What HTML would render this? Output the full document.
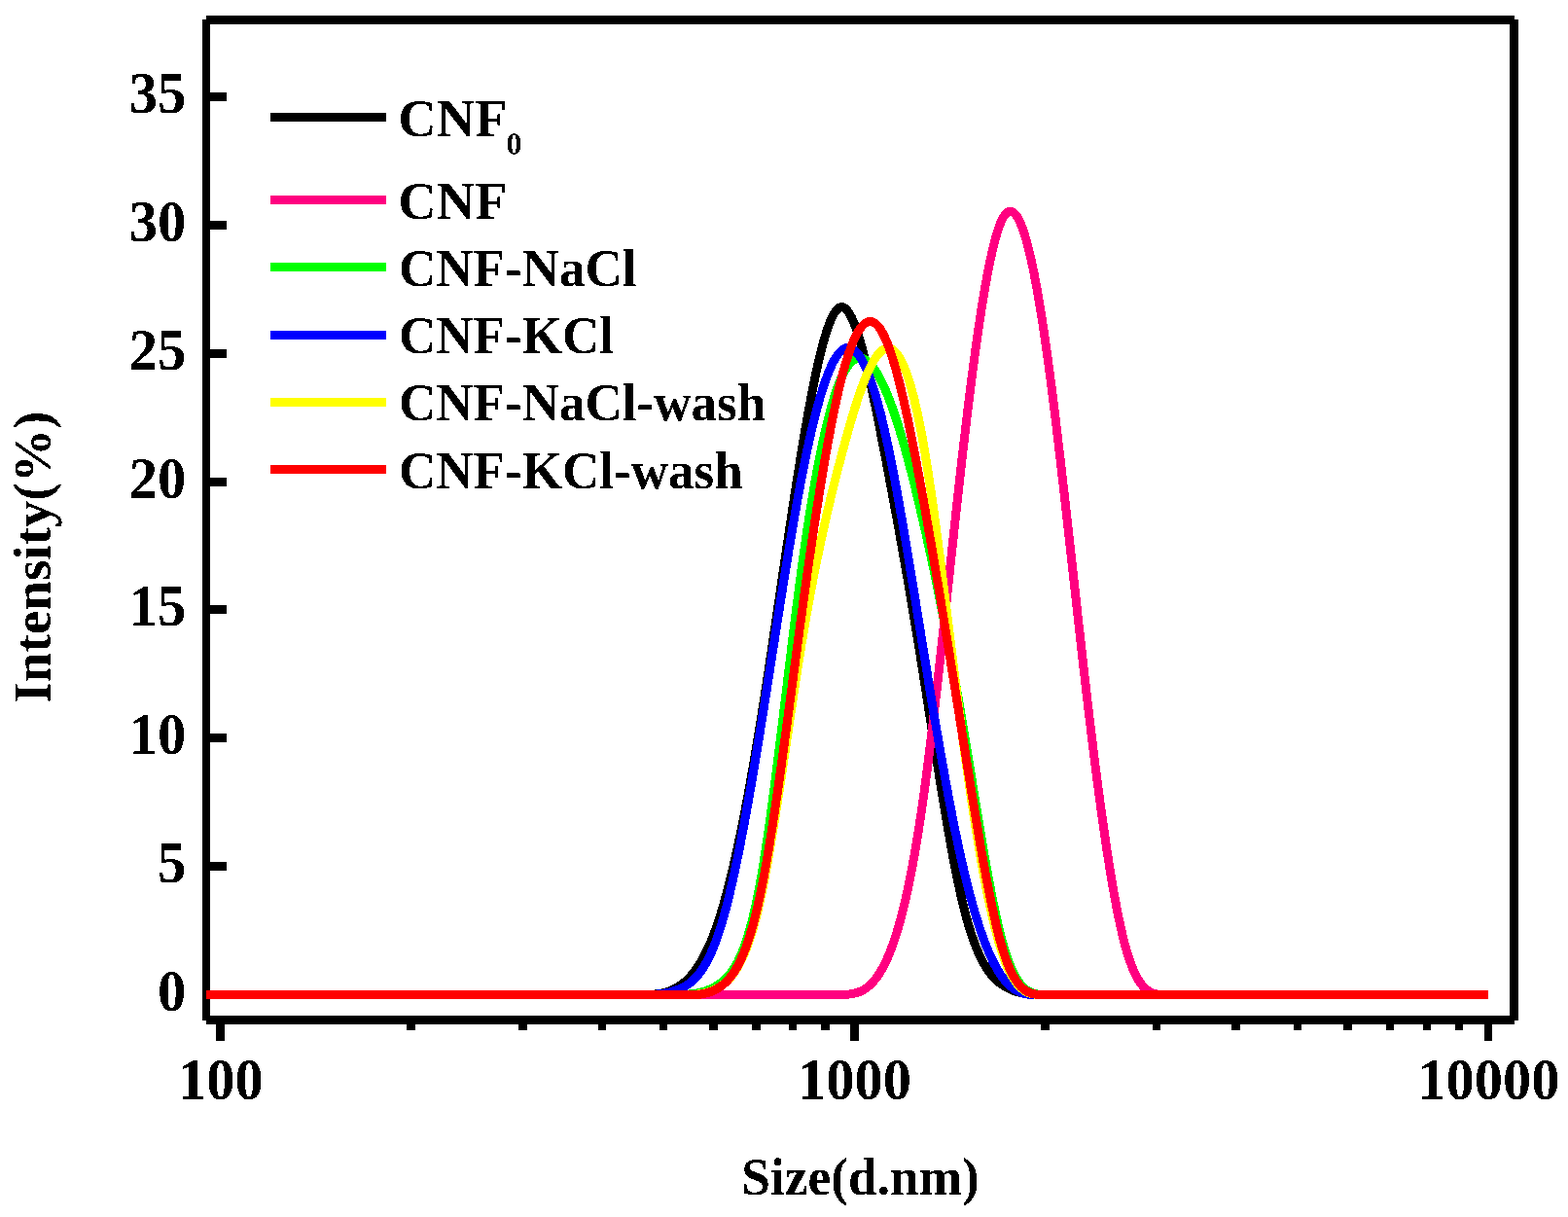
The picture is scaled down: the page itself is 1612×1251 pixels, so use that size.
<!DOCTYPE html>
<html><head><meta charset="utf-8"><title>Size distribution by intensity</title>
<style>html,body{margin:0;padding:0;background:#fff;overflow:hidden}svg{display:block}</style>
</head><body>
<svg width="1612" height="1251" viewBox="0 0 1612 1251">
<defs><filter id="bin" x="-5%" y="-10%" width="110%" height="120%"><feComponentTransfer><feFuncA type="discrete" tableValues="0 1"/></feComponentTransfer></filter></defs>
<rect width="1612" height="1251" fill="#fff"/>
<g fill="#000" shape-rendering="crispEdges">
<rect x="208" y="20" width="8" height="1029"/>
<rect x="1552" y="20" width="9" height="1029"/>
<rect x="212" y="16" width="1345" height="9"/>
<rect x="212" y="1044" width="1345" height="9"/>
<rect x="216" y="1018.00" width="17" height="9"/>
<rect x="216" y="886.15" width="17" height="9"/>
<rect x="216" y="754.30" width="17" height="9"/>
<rect x="216" y="622.45" width="17" height="9"/>
<rect x="216" y="490.60" width="17" height="9"/>
<rect x="216" y="358.75" width="17" height="9"/>
<rect x="216" y="226.90" width="17" height="9"/>
<rect x="216" y="95.05" width="17" height="9"/>
<rect x="222.25" y="1053" width="8.5" height="17"/>
<rect x="418.45" y="1053" width="8.5" height="6"/>
<rect x="533.21" y="1053" width="8.5" height="6"/>
<rect x="614.64" y="1053" width="8.5" height="6"/>
<rect x="677.80" y="1053" width="8.5" height="6"/>
<rect x="729.41" y="1053" width="8.5" height="6"/>
<rect x="773.04" y="1053" width="8.5" height="6"/>
<rect x="810.84" y="1053" width="8.5" height="6"/>
<rect x="844.18" y="1053" width="8.5" height="6"/>
<rect x="874.00" y="1053" width="8.5" height="17"/>
<rect x="1070.20" y="1053" width="8.5" height="6"/>
<rect x="1184.96" y="1053" width="8.5" height="6"/>
<rect x="1266.39" y="1053" width="8.5" height="6"/>
<rect x="1329.55" y="1053" width="8.5" height="6"/>
<rect x="1381.16" y="1053" width="8.5" height="6"/>
<rect x="1424.79" y="1053" width="8.5" height="6"/>
<rect x="1462.59" y="1053" width="8.5" height="6"/>
<rect x="1495.93" y="1053" width="8.5" height="6"/>
<rect x="1525.75" y="1053" width="8.5" height="17"/>
</g>
<g fill="none" stroke-width="9" stroke-linejoin="round" stroke-linecap="butt" shape-rendering="crispEdges">
<path d="M212.0,1022.50 657.0,1022.50 658.0,1022.50 659.0,1022.50 660.0,1022.50 661.0,1022.50 662.0,1022.49 663.0,1022.48 664.0,1022.47 665.0,1022.45 666.0,1022.42 667.0,1022.39 668.0,1022.35 669.0,1022.31 670.0,1022.25 671.0,1022.19 672.0,1022.11 673.0,1022.02 674.0,1021.92 675.0,1021.81 676.0,1021.68 677.0,1021.54 678.0,1021.38 679.0,1021.21 680.0,1021.02 681.0,1020.81 682.0,1020.59 683.0,1020.34 684.0,1020.08 685.0,1019.79 686.0,1019.49 687.0,1019.15 688.0,1018.80 689.0,1018.42 690.0,1018.02 691.0,1017.59 692.0,1017.14 693.0,1016.66 694.0,1016.15 695.0,1015.61 696.0,1015.04 697.0,1014.45 698.0,1013.82 699.0,1013.15 700.0,1012.46 701.0,1011.73 702.0,1010.97 703.0,1010.17 704.0,1009.33 705.0,1008.45 706.0,1007.54 707.0,1006.58 708.0,1005.57 709.0,1004.52 710.0,1003.43 711.0,1002.29 712.0,1001.10 713.0,999.86 714.0,998.57 715.0,997.22 716.0,995.82 717.0,994.37 718.0,992.86 719.0,991.29 720.0,989.66 721.0,987.97 722.0,986.22 723.0,984.41 724.0,982.53 725.0,980.58 726.0,978.57 727.0,976.49 728.0,974.34 729.0,972.11 730.0,969.82 731.0,967.45 732.0,965.00 733.0,962.48 734.0,959.88 735.0,957.20 736.0,954.44 737.0,951.59 738.0,948.67 739.0,945.65 740.0,942.56 741.0,939.37 742.0,936.10 743.0,932.74 744.0,929.29 745.0,925.76 746.0,922.14 747.0,918.44 748.0,914.65 749.0,910.78 750.0,906.83 751.0,902.79 752.0,898.68 753.0,894.49 754.0,890.21 755.0,885.86 756.0,881.43 757.0,876.92 758.0,872.34 759.0,867.68 760.0,862.95 761.0,858.14 762.0,853.26 763.0,848.30 764.0,843.28 765.0,838.18 766.0,833.01 767.0,827.77 768.0,822.47 769.0,817.09 770.0,811.65 771.0,806.14 772.0,800.57 773.0,794.92 774.0,789.22 775.0,783.45 776.0,777.62 777.0,771.72 778.0,765.76 779.0,759.75 780.0,753.67 781.0,747.53 782.0,741.34 783.0,735.08 784.0,728.77 785.0,722.41 786.0,716.00 787.0,709.54 788.0,703.04 789.0,696.49 790.0,689.91 791.0,683.30 792.0,676.65 793.0,669.97 794.0,663.27 795.0,656.55 796.0,649.80 797.0,643.04 798.0,636.26 799.0,629.47 800.0,622.67 801.0,615.87 802.0,609.06 803.0,602.26 804.0,595.46 805.0,588.66 806.0,581.88 807.0,575.10 808.0,568.34 809.0,561.60 810.0,554.88 811.0,548.19 812.0,541.52 813.0,534.88 814.0,528.27 815.0,521.70 816.0,515.17 817.0,508.68 818.0,502.23 819.0,495.83 820.0,489.48 821.0,483.19 822.0,476.95 823.0,470.77 824.0,464.65 825.0,458.60 826.0,452.62 827.0,446.71 828.0,440.88 829.0,435.12 830.0,429.46 831.0,423.88 832.0,418.40 833.0,413.01 834.0,407.73 835.0,402.55 836.0,397.48 837.0,392.52 838.0,387.68 839.0,382.95 840.0,378.36 841.0,373.89 842.0,369.56 843.0,365.36 844.0,361.30 845.0,357.39 846.0,353.62 847.0,350.01 848.0,346.56 849.0,343.26 850.0,340.13 851.0,337.17 852.0,334.38 853.0,331.76 854.0,329.33 855.0,327.08 856.0,325.02 857.0,323.15 858.0,321.48 859.0,320.01 860.0,318.74 861.0,317.68 862.0,316.83 863.0,316.19 864.0,315.78 865.0,315.59 866.0,315.63 867.0,315.89 868.0,316.37 869.0,317.07 870.0,317.98 871.0,319.09 872.0,320.40 873.0,321.91 874.0,323.61 875.0,325.49 876.0,327.55 877.0,329.79 878.0,332.19 879.0,334.76 880.0,337.49 881.0,340.38 882.0,343.41 883.0,346.59 884.0,349.91 885.0,353.37 886.0,356.95 887.0,360.66 888.0,364.49 889.0,368.43 890.0,372.48 891.0,376.63 892.0,380.89 893.0,385.24 894.0,389.68 895.0,394.20 896.0,398.80 897.0,403.48 898.0,408.23 899.0,413.04 900.0,417.91 901.0,422.83 902.0,427.81 903.0,432.82 904.0,437.88 905.0,442.97 906.0,448.09 907.0,453.23 908.0,458.40 909.0,463.58 910.0,468.79 911.0,474.01 912.0,479.26 913.0,484.53 914.0,489.82 915.0,495.14 916.0,500.48 917.0,505.84 918.0,511.22 919.0,516.63 920.0,522.06 921.0,527.52 922.0,533.00 923.0,538.51 924.0,544.04 925.0,549.60 926.0,555.19 927.0,560.80 928.0,566.44 929.0,572.11 930.0,577.80 931.0,583.53 932.0,589.28 933.0,595.06 934.0,600.87 935.0,606.71 936.0,612.58 937.0,618.48 938.0,624.41 939.0,630.37 940.0,636.37 941.0,642.39 942.0,648.45 943.0,654.54 944.0,660.66 945.0,666.81 946.0,673.00 947.0,679.22 948.0,685.48 949.0,691.77 950.0,698.09 951.0,704.44 952.0,710.82 953.0,717.21 954.0,723.62 955.0,730.04 956.0,736.47 957.0,742.90 958.0,749.32 959.0,755.75 960.0,762.16 961.0,768.56 962.0,774.94 963.0,781.30 964.0,787.63 965.0,793.94 966.0,800.20 967.0,806.43 968.0,812.62 969.0,818.76 970.0,824.85 971.0,830.88 972.0,836.85 973.0,842.76 974.0,848.61 975.0,854.38 976.0,860.07 977.0,865.68 978.0,871.21 979.0,876.65 980.0,882.00 981.0,887.25 982.0,892.40 983.0,897.45 984.0,902.38 985.0,907.21 986.0,911.91 987.0,916.49 988.0,920.95 989.0,925.28 990.0,929.47 991.0,933.52 992.0,937.44 993.0,941.23 994.0,944.89 995.0,948.42 996.0,951.83 997.0,955.11 998.0,958.28 999.0,961.33 1000.0,964.26 1001.0,967.08 1002.0,969.79 1003.0,972.40 1004.0,974.90 1005.0,977.31 1006.0,979.61 1007.0,981.82 1008.0,983.93 1009.0,985.95 1010.0,987.89 1011.0,989.74 1012.0,991.50 1013.0,993.19 1014.0,994.79 1015.0,996.32 1016.0,997.78 1017.0,999.17 1018.0,1000.49 1019.0,1001.75 1020.0,1002.95 1021.0,1004.08 1022.0,1005.16 1023.0,1006.18 1024.0,1007.15 1025.0,1008.07 1026.0,1008.95 1027.0,1009.78 1028.0,1010.57 1029.0,1011.32 1030.0,1012.03 1031.0,1012.71 1032.0,1013.36 1033.0,1013.98 1034.0,1014.57 1035.0,1015.13 1036.0,1015.67 1037.0,1016.17 1038.0,1016.65 1039.0,1017.11 1040.0,1017.54 1041.0,1017.95 1042.0,1018.33 1043.0,1018.69 1044.0,1019.03 1045.0,1019.35 1046.0,1019.65 1047.0,1019.93 1048.0,1020.18 1049.0,1020.42 1050.0,1020.65 1051.0,1020.85 1052.0,1021.04 1053.0,1021.21 1054.0,1021.37 1055.0,1021.52 1056.0,1021.65 1057.0,1021.77 1058.0,1021.87 1059.0,1021.97 1060.0,1022.05 1061.0,1022.13 1062.0,1022.19 1063.0,1022.25 1064.0,1022.30 1065.0,1022.34 1066.0,1022.37 1067.0,1022.40 1068.0,1022.43 1069.0,1022.45 1070.0,1022.47 1071.0,1022.48 1072.0,1022.49 1073.0,1022.50 1530.0,1022.50" stroke="#000000"/>
<path d="M212.0,1022.50 865.0,1022.51 866.0,1022.47 867.0,1022.43 868.0,1022.39 869.0,1022.33 870.0,1022.27 871.0,1022.19 872.0,1022.10 873.0,1022.00 874.0,1021.88 875.0,1021.73 876.0,1021.57 877.0,1021.38 878.0,1021.17 879.0,1020.93 880.0,1020.67 881.0,1020.37 882.0,1020.04 883.0,1019.67 884.0,1019.27 885.0,1018.83 886.0,1018.35 887.0,1017.83 888.0,1017.27 889.0,1016.66 890.0,1016.00 891.0,1015.29 892.0,1014.53 893.0,1013.72 894.0,1012.85 895.0,1011.92 896.0,1010.94 897.0,1009.89 898.0,1008.79 899.0,1007.61 900.0,1006.38 901.0,1005.07 902.0,1003.69 903.0,1002.24 904.0,1000.72 905.0,999.12 906.0,997.44 907.0,995.69 908.0,993.85 909.0,991.93 910.0,989.92 911.0,987.82 912.0,985.64 913.0,983.36 914.0,980.99 915.0,978.52 916.0,975.95 917.0,973.28 918.0,970.51 919.0,967.64 920.0,964.65 921.0,961.56 922.0,958.36 923.0,955.04 924.0,951.61 925.0,948.06 926.0,944.39 927.0,940.60 928.0,936.69 929.0,932.64 930.0,928.48 931.0,924.18 932.0,919.74 933.0,915.18 934.0,910.47 935.0,905.63 936.0,900.65 937.0,895.52 938.0,890.25 939.0,884.84 940.0,879.27 941.0,873.55 942.0,867.68 943.0,861.65 944.0,855.46 945.0,849.12 946.0,842.61 947.0,835.94 948.0,829.10 949.0,822.09 950.0,814.92 951.0,807.59 952.0,800.10 953.0,792.47 954.0,784.70 955.0,776.80 956.0,768.76 957.0,760.61 958.0,752.34 959.0,743.96 960.0,735.47 961.0,726.89 962.0,718.21 963.0,709.45 964.0,700.62 965.0,691.70 966.0,682.73 967.0,673.69 968.0,664.59 969.0,655.45 970.0,646.26 971.0,637.04 972.0,627.79 973.0,618.52 974.0,609.22 975.0,599.92 976.0,590.61 977.0,581.30 978.0,572.00 979.0,562.71 980.0,553.44 981.0,544.19 982.0,534.98 983.0,525.80 984.0,516.67 985.0,507.58 986.0,498.56 987.0,489.59 988.0,480.69 989.0,471.87 990.0,463.13 991.0,454.47 992.0,445.90 993.0,437.43 994.0,429.05 995.0,420.78 996.0,412.62 997.0,404.56 998.0,396.62 999.0,388.79 1000.0,381.09 1001.0,373.51 1002.0,366.06 1003.0,358.75 1004.0,351.57 1005.0,344.54 1006.0,337.65 1007.0,330.90 1008.0,324.32 1009.0,317.89 1010.0,311.62 1011.0,305.51 1012.0,299.58 1013.0,293.82 1014.0,288.23 1015.0,282.83 1016.0,277.61 1017.0,272.58 1018.0,267.74 1019.0,263.10 1020.0,258.66 1021.0,254.42 1022.0,250.39 1023.0,246.58 1024.0,242.98 1025.0,239.60 1026.0,236.44 1027.0,233.52 1028.0,230.82 1029.0,228.37 1030.0,226.15 1031.0,224.17 1032.0,222.45 1033.0,220.97 1034.0,219.74 1035.0,218.75 1036.0,218.00 1037.0,217.49 1038.0,217.22 1039.0,217.18 1040.0,217.38 1041.0,217.81 1042.0,218.46 1043.0,219.34 1044.0,220.45 1045.0,221.77 1046.0,223.32 1047.0,225.08 1048.0,227.05 1049.0,229.24 1050.0,231.64 1051.0,234.25 1052.0,237.06 1053.0,240.07 1054.0,243.29 1055.0,246.70 1056.0,250.31 1057.0,254.12 1058.0,258.12 1059.0,262.31 1060.0,266.68 1061.0,271.24 1062.0,275.99 1063.0,280.91 1064.0,286.02 1065.0,291.30 1066.0,296.75 1067.0,302.38 1068.0,308.17 1069.0,314.14 1070.0,320.27 1071.0,326.56 1072.0,333.01 1073.0,339.62 1074.0,346.39 1075.0,353.31 1076.0,360.37 1077.0,367.58 1078.0,374.92 1079.0,382.39 1080.0,389.98 1081.0,397.70 1082.0,405.53 1083.0,413.47 1084.0,421.52 1085.0,429.66 1086.0,437.90 1087.0,446.23 1088.0,454.65 1089.0,463.14 1090.0,471.71 1091.0,480.34 1092.0,489.04 1093.0,497.80 1094.0,506.61 1095.0,515.48 1096.0,524.38 1097.0,533.32 1098.0,542.30 1099.0,551.30 1100.0,560.33 1101.0,569.37 1102.0,578.42 1103.0,587.49 1104.0,596.55 1105.0,605.62 1106.0,614.67 1107.0,623.71 1108.0,632.74 1109.0,641.74 1110.0,650.71 1111.0,659.64 1112.0,668.54 1113.0,677.40 1114.0,686.20 1115.0,694.96 1116.0,703.65 1117.0,712.28 1118.0,720.85 1119.0,729.35 1120.0,737.78 1121.0,746.14 1122.0,754.42 1123.0,762.62 1124.0,770.74 1125.0,778.77 1126.0,786.72 1127.0,794.57 1128.0,802.33 1129.0,810.00 1130.0,817.56 1131.0,825.02 1132.0,832.37 1133.0,839.62 1134.0,846.75 1135.0,853.76 1136.0,860.66 1137.0,867.44 1138.0,874.09 1139.0,880.61 1140.0,887.01 1141.0,893.27 1142.0,899.39 1143.0,905.38 1144.0,911.22 1145.0,916.92 1146.0,922.46 1147.0,927.86 1148.0,933.10 1149.0,938.19 1150.0,943.12 1151.0,947.88 1152.0,952.47 1153.0,956.90 1154.0,961.15 1155.0,965.23 1156.0,969.13 1157.0,972.85 1158.0,976.39 1159.0,979.76 1160.0,982.96 1161.0,985.99 1162.0,988.87 1163.0,991.59 1164.0,994.16 1165.0,996.58 1166.0,998.86 1167.0,1001.00 1168.0,1003.00 1169.0,1004.88 1170.0,1006.63 1171.0,1008.26 1172.0,1009.78 1173.0,1011.18 1174.0,1012.47 1175.0,1013.67 1176.0,1014.76 1177.0,1015.76 1178.0,1016.66 1179.0,1017.48 1180.0,1018.22 1181.0,1018.88 1182.0,1019.47 1183.0,1019.99 1184.0,1020.45 1185.0,1020.84 1186.0,1021.18 1187.0,1021.47 1188.0,1021.71 1189.0,1021.91 1190.0,1022.07 1191.0,1022.20 1192.0,1022.30 1193.0,1022.37 1194.0,1022.42 1195.0,1022.46 1196.0,1022.48 1197.0,1022.49 1198.0,1022.50 1530.0,1022.50" stroke="#FF0080"/>
<path d="M212.0,1022.50 699.0,1022.50 700.0,1022.47 701.0,1022.43 702.0,1022.39 703.0,1022.35 704.0,1022.29 705.0,1022.24 706.0,1022.17 707.0,1022.10 708.0,1022.02 709.0,1021.93 710.0,1021.84 711.0,1021.73 712.0,1021.61 713.0,1021.48 714.0,1021.34 715.0,1021.18 716.0,1021.01 717.0,1020.83 718.0,1020.63 719.0,1020.42 720.0,1020.18 721.0,1019.94 722.0,1019.67 723.0,1019.39 724.0,1019.09 725.0,1018.76 726.0,1018.42 727.0,1018.06 728.0,1017.67 729.0,1017.27 730.0,1016.83 731.0,1016.38 732.0,1015.90 733.0,1015.40 734.0,1014.87 735.0,1014.31 736.0,1013.72 737.0,1013.11 738.0,1012.47 739.0,1011.80 740.0,1011.10 741.0,1010.37 742.0,1009.61 743.0,1008.81 744.0,1007.97 745.0,1007.08 746.0,1006.15 747.0,1005.16 748.0,1004.11 749.0,1003.00 750.0,1001.83 751.0,1000.59 752.0,999.27 753.0,997.87 754.0,996.39 755.0,994.83 756.0,993.17 757.0,991.42 758.0,989.57 759.0,987.62 760.0,985.56 761.0,983.39 762.0,981.10 763.0,978.69 764.0,976.16 765.0,973.50 766.0,970.71 767.0,967.78 768.0,964.71 769.0,961.49 770.0,958.13 771.0,954.62 772.0,950.94 773.0,947.11 774.0,943.11 775.0,938.94 776.0,934.59 777.0,930.07 778.0,925.37 779.0,920.48 780.0,915.40 781.0,910.12 782.0,904.65 783.0,898.97 784.0,893.10 785.0,887.04 786.0,880.79 787.0,874.37 788.0,867.79 789.0,861.05 790.0,854.15 791.0,847.12 792.0,839.94 793.0,832.65 794.0,825.23 795.0,817.70 796.0,810.06 797.0,802.33 798.0,794.51 799.0,786.61 800.0,778.64 801.0,770.60 802.0,762.51 803.0,754.36 804.0,746.18 805.0,737.96 806.0,729.71 807.0,721.45 808.0,713.17 809.0,704.89 810.0,696.62 811.0,688.36 812.0,680.12 813.0,671.90 814.0,663.73 815.0,655.59 816.0,647.51 817.0,639.49 818.0,631.54 819.0,623.66 820.0,615.86 821.0,608.15 822.0,600.54 823.0,593.04 824.0,585.65 825.0,578.38 826.0,571.23 827.0,564.20 828.0,557.29 829.0,550.50 830.0,543.83 831.0,537.28 832.0,530.86 833.0,524.55 834.0,518.37 835.0,512.30 836.0,506.36 837.0,500.55 838.0,494.85 839.0,489.28 840.0,483.83 841.0,478.50 842.0,473.30 843.0,468.22 844.0,463.27 845.0,458.44 846.0,453.73 847.0,449.15 848.0,444.70 849.0,440.37 850.0,436.17 851.0,432.09 852.0,428.14 853.0,424.31 854.0,420.61 855.0,417.04 856.0,413.60 857.0,410.28 858.0,407.09 859.0,404.03 860.0,401.09 861.0,398.29 862.0,395.61 863.0,393.06 864.0,390.64 865.0,388.35 866.0,386.19 867.0,384.16 868.0,382.26 869.0,380.48 870.0,378.83 871.0,377.30 872.0,375.89 873.0,374.61 874.0,373.44 875.0,372.39 876.0,371.46 877.0,370.65 878.0,369.95 879.0,369.36 880.0,368.88 881.0,368.52 882.0,368.26 883.0,368.11 884.0,368.07 885.0,368.14 886.0,368.31 887.0,368.58 888.0,368.95 889.0,369.42 890.0,370.00 891.0,370.67 892.0,371.43 893.0,372.29 894.0,373.25 895.0,374.30 896.0,375.43 897.0,376.66 898.0,377.98 899.0,379.38 900.0,380.87 901.0,382.45 902.0,384.11 903.0,385.85 904.0,387.67 905.0,389.57 906.0,391.55 907.0,393.60 908.0,395.73 909.0,397.94 910.0,400.22 911.0,402.57 912.0,405.00 913.0,407.49 914.0,410.05 915.0,412.69 916.0,415.39 917.0,418.15 918.0,420.99 919.0,423.88 920.0,426.84 921.0,429.86 922.0,432.95 923.0,436.09 924.0,439.29 925.0,442.55 926.0,445.87 927.0,449.25 928.0,452.68 929.0,456.16 930.0,459.70 931.0,463.29 932.0,466.93 933.0,470.62 934.0,474.36 935.0,478.15 936.0,481.98 937.0,485.86 938.0,489.79 939.0,493.76 940.0,497.77 941.0,501.83 942.0,505.92 943.0,510.06 944.0,514.23 945.0,518.44 946.0,522.69 947.0,526.98 948.0,531.30 949.0,535.65 950.0,540.04 951.0,544.46 952.0,548.91 953.0,553.40 954.0,557.93 955.0,562.49 956.0,567.08 957.0,571.71 958.0,576.37 959.0,581.07 960.0,585.81 961.0,590.58 962.0,595.39 963.0,600.24 964.0,605.12 965.0,610.05 966.0,615.00 967.0,620.00 968.0,625.04 969.0,630.11 970.0,635.22 971.0,640.37 972.0,645.57 973.0,650.80 974.0,656.07 975.0,661.37 976.0,666.73 977.0,672.12 978.0,677.55 979.0,683.02 980.0,688.53 981.0,694.09 982.0,699.69 983.0,705.33 984.0,711.01 985.0,716.73 986.0,722.50 987.0,728.31 988.0,734.16 989.0,740.06 990.0,746.00 991.0,751.98 992.0,758.01 993.0,764.06 994.0,770.15 995.0,776.25 996.0,782.38 997.0,788.52 998.0,794.67 999.0,800.82 1000.0,806.98 1001.0,813.12 1002.0,819.26 1003.0,825.37 1004.0,831.47 1005.0,837.54 1006.0,843.58 1007.0,849.59 1008.0,855.55 1009.0,861.47 1010.0,867.33 1011.0,873.15 1012.0,878.90 1013.0,884.58 1014.0,890.19 1015.0,895.73 1016.0,901.19 1017.0,906.56 1018.0,911.84 1019.0,917.02 1020.0,922.11 1021.0,927.09 1022.0,931.96 1023.0,936.71 1024.0,941.34 1025.0,945.85 1026.0,950.22 1027.0,954.47 1028.0,958.57 1029.0,962.52 1030.0,966.33 1031.0,969.98 1032.0,973.47 1033.0,976.80 1034.0,979.97 1035.0,983.00 1036.0,985.87 1037.0,988.60 1038.0,991.19 1039.0,993.64 1040.0,995.95 1041.0,998.14 1042.0,1000.20 1043.0,1002.14 1044.0,1003.96 1045.0,1005.67 1046.0,1007.27 1047.0,1008.76 1048.0,1010.14 1049.0,1011.43 1050.0,1012.62 1051.0,1013.72 1052.0,1014.74 1053.0,1015.67 1054.0,1016.52 1055.0,1017.29 1056.0,1017.99 1057.0,1018.62 1058.0,1019.19 1059.0,1019.69 1060.0,1020.14 1061.0,1020.54 1062.0,1020.88 1063.0,1021.18 1064.0,1021.44 1065.0,1021.66 1066.0,1021.85 1067.0,1022.00 1068.0,1022.13 1069.0,1022.24 1070.0,1022.32 1071.0,1022.39 1072.0,1022.45 1073.0,1022.50 1530.0,1022.50" stroke="#00FF00"/>
<path d="M212.0,1022.50 657.0,1022.50 658.0,1022.50 659.0,1022.50 660.0,1022.50 661.0,1022.49 662.0,1022.49 663.0,1022.48 664.0,1022.47 665.0,1022.46 666.0,1022.44 667.0,1022.42 668.0,1022.39 669.0,1022.36 670.0,1022.32 671.0,1022.28 672.0,1022.22 673.0,1022.17 674.0,1022.10 675.0,1022.02 676.0,1021.94 677.0,1021.85 678.0,1021.74 679.0,1021.63 680.0,1021.50 681.0,1021.37 682.0,1021.22 683.0,1021.06 684.0,1020.88 685.0,1020.70 686.0,1020.50 687.0,1020.28 688.0,1020.05 689.0,1019.80 690.0,1019.54 691.0,1019.26 692.0,1018.96 693.0,1018.65 694.0,1018.32 695.0,1017.97 696.0,1017.60 697.0,1017.21 698.0,1016.80 699.0,1016.37 700.0,1015.92 701.0,1015.44 702.0,1014.94 703.0,1014.42 704.0,1013.86 705.0,1013.27 706.0,1012.65 707.0,1011.99 708.0,1011.29 709.0,1010.55 710.0,1009.77 711.0,1008.95 712.0,1008.07 713.0,1007.15 714.0,1006.18 715.0,1005.15 716.0,1004.07 717.0,1002.93 718.0,1001.73 719.0,1000.46 720.0,999.14 721.0,997.74 722.0,996.28 723.0,994.75 724.0,993.14 725.0,991.46 726.0,989.70 727.0,987.86 728.0,985.94 729.0,983.93 730.0,981.84 731.0,979.66 732.0,977.39 733.0,975.03 734.0,972.57 735.0,970.02 736.0,967.37 737.0,964.61 738.0,961.75 739.0,958.79 740.0,955.72 741.0,952.54 742.0,949.24 743.0,945.84 744.0,942.33 745.0,938.72 746.0,935.00 747.0,931.19 748.0,927.27 749.0,923.25 750.0,919.14 751.0,914.94 752.0,910.64 753.0,906.25 754.0,901.78 755.0,897.22 756.0,892.57 757.0,887.84 758.0,883.03 759.0,878.14 760.0,873.18 761.0,868.14 762.0,863.02 763.0,857.84 764.0,852.58 765.0,847.26 766.0,841.87 767.0,836.42 768.0,830.90 769.0,825.33 770.0,819.70 771.0,814.01 772.0,808.26 773.0,802.47 774.0,796.62 775.0,790.72 776.0,784.78 777.0,778.79 778.0,772.76 779.0,766.68 780.0,760.57 781.0,754.42 782.0,748.23 783.0,742.01 784.0,735.76 785.0,729.48 786.0,723.17 787.0,716.84 788.0,710.49 789.0,704.12 790.0,697.74 791.0,691.34 792.0,684.94 793.0,678.53 794.0,672.12 795.0,665.70 796.0,659.29 797.0,652.88 798.0,646.48 799.0,640.09 800.0,633.71 801.0,627.34 802.0,621.00 803.0,614.68 804.0,608.38 805.0,602.11 806.0,595.86 807.0,589.65 808.0,583.48 809.0,577.34 810.0,571.24 811.0,565.18 812.0,559.18 813.0,553.22 814.0,547.31 815.0,541.46 816.0,535.66 817.0,529.92 818.0,524.25 819.0,518.64 820.0,513.10 821.0,507.63 822.0,502.23 823.0,496.92 824.0,491.68 825.0,486.52 826.0,481.44 827.0,476.45 828.0,471.54 829.0,466.72 830.0,461.99 831.0,457.34 832.0,452.79 833.0,448.33 834.0,443.95 835.0,439.68 836.0,435.49 837.0,431.40 838.0,427.41 839.0,423.52 840.0,419.72 841.0,416.03 842.0,412.43 843.0,408.94 844.0,405.55 845.0,402.27 846.0,399.10 847.0,396.03 848.0,393.07 849.0,390.22 850.0,387.48 851.0,384.85 852.0,382.33 853.0,379.93 854.0,377.64 855.0,375.48 856.0,373.42 857.0,371.49 858.0,369.68 859.0,367.99 860.0,366.42 861.0,364.97 862.0,363.65 863.0,362.46 864.0,361.39 865.0,360.45 866.0,359.64 867.0,358.96 868.0,358.41 869.0,357.98 870.0,357.69 871.0,357.52 872.0,357.48 873.0,357.56 874.0,357.77 875.0,358.11 876.0,358.57 877.0,359.15 878.0,359.86 879.0,360.69 880.0,361.65 881.0,362.73 882.0,363.93 883.0,365.25 884.0,366.69 885.0,368.25 886.0,369.93 887.0,371.73 888.0,373.65 889.0,375.69 890.0,377.85 891.0,380.12 892.0,382.51 893.0,385.02 894.0,387.64 895.0,390.38 896.0,393.24 897.0,396.20 898.0,399.29 899.0,402.48 900.0,405.79 901.0,409.21 902.0,412.74 903.0,416.39 904.0,420.14 905.0,424.01 906.0,427.98 907.0,432.07 908.0,436.26 909.0,440.56 910.0,444.96 911.0,449.46 912.0,454.06 913.0,458.75 914.0,463.54 915.0,468.41 916.0,473.37 917.0,478.41 918.0,483.53 919.0,488.73 920.0,494.00 921.0,499.34 922.0,504.75 923.0,510.23 924.0,515.77 925.0,521.37 926.0,527.03 927.0,532.74 928.0,538.50 929.0,544.31 930.0,550.16 931.0,556.06 932.0,562.00 933.0,567.98 934.0,573.98 935.0,580.03 936.0,586.09 937.0,592.19 938.0,598.30 939.0,604.44 940.0,610.59 941.0,616.76 942.0,622.94 943.0,629.13 944.0,635.32 945.0,641.51 946.0,647.71 947.0,653.90 948.0,660.09 949.0,666.26 950.0,672.43 951.0,678.58 952.0,684.72 953.0,690.84 954.0,696.95 955.0,703.03 956.0,709.10 957.0,715.14 958.0,721.16 959.0,727.15 960.0,733.11 961.0,739.05 962.0,744.95 963.0,750.83 964.0,756.66 965.0,762.46 966.0,768.23 967.0,773.95 968.0,779.64 969.0,785.28 970.0,790.87 971.0,796.43 972.0,801.93 973.0,807.38 974.0,812.79 975.0,818.14 976.0,823.43 977.0,828.67 978.0,833.86 979.0,838.98 980.0,844.04 981.0,849.04 982.0,853.98 983.0,858.85 984.0,863.65 985.0,868.38 986.0,873.05 987.0,877.64 988.0,882.15 989.0,886.59 990.0,890.95 991.0,895.24 992.0,899.44 993.0,903.57 994.0,907.61 995.0,911.58 996.0,915.48 997.0,919.29 998.0,923.03 999.0,926.69 1000.0,930.28 1001.0,933.79 1002.0,937.22 1003.0,940.58 1004.0,943.87 1005.0,947.07 1006.0,950.21 1007.0,953.27 1008.0,956.26 1009.0,959.17 1010.0,962.01 1011.0,964.77 1012.0,967.47 1013.0,970.09 1014.0,972.64 1015.0,975.12 1016.0,977.52 1017.0,979.86 1018.0,982.12 1019.0,984.31 1020.0,986.44 1021.0,988.49 1022.0,990.47 1023.0,992.39 1024.0,994.23 1025.0,996.01 1026.0,997.71 1027.0,999.35 1028.0,1000.93 1029.0,1002.43 1030.0,1003.87 1031.0,1005.24 1032.0,1006.54 1033.0,1007.78 1034.0,1008.95 1035.0,1010.06 1036.0,1011.11 1037.0,1012.10 1038.0,1013.04 1039.0,1013.91 1040.0,1014.74 1041.0,1015.51 1042.0,1016.23 1043.0,1016.91 1044.0,1017.53 1045.0,1018.11 1046.0,1018.65 1047.0,1019.14 1048.0,1019.59 1049.0,1020.00 1050.0,1020.38 1051.0,1020.72 1052.0,1021.02 1053.0,1021.30 1054.0,1021.54 1055.0,1021.75 1056.0,1021.94 1057.0,1022.10 1058.0,1022.24 1059.0,1022.35 1060.0,1022.44 1061.0,1022.51 1062.0,1022.57 1063.0,1022.61 1064.0,1022.64 1065.0,1022.65 1066.0,1022.65 1067.0,1022.64 1068.0,1022.63 1069.0,1022.61 1070.0,1022.58 1071.0,1022.56 1072.0,1022.53 1073.0,1022.50 1530.0,1022.50" stroke="#0000FF"/>
<path d="M212.0,1022.50 699.0,1022.50 700.0,1022.51 701.0,1022.52 702.0,1022.52 703.0,1022.53 704.0,1022.54 705.0,1022.54 706.0,1022.53 707.0,1022.52 708.0,1022.51 709.0,1022.49 710.0,1022.46 711.0,1022.43 712.0,1022.38 713.0,1022.33 714.0,1022.26 715.0,1022.19 716.0,1022.10 717.0,1022.00 718.0,1021.88 719.0,1021.75 720.0,1021.61 721.0,1021.45 722.0,1021.27 723.0,1021.08 724.0,1020.86 725.0,1020.63 726.0,1020.38 727.0,1020.10 728.0,1019.80 729.0,1019.49 730.0,1019.14 731.0,1018.78 732.0,1018.39 733.0,1017.97 734.0,1017.52 735.0,1017.05 736.0,1016.55 737.0,1016.02 738.0,1015.47 739.0,1014.88 740.0,1014.26 741.0,1013.60 742.0,1012.92 743.0,1012.19 744.0,1011.43 745.0,1010.62 746.0,1009.77 747.0,1008.87 748.0,1007.91 749.0,1006.90 750.0,1005.84 751.0,1004.71 752.0,1003.52 753.0,1002.26 754.0,1000.93 755.0,999.53 756.0,998.05 757.0,996.49 758.0,994.85 759.0,993.13 760.0,991.31 761.0,989.41 762.0,987.41 763.0,985.31 764.0,983.12 765.0,980.82 766.0,978.41 767.0,975.90 768.0,973.27 769.0,970.52 770.0,967.66 771.0,964.68 772.0,961.57 773.0,958.34 774.0,954.97 775.0,951.47 776.0,947.83 777.0,944.06 778.0,940.14 779.0,936.08 780.0,931.86 781.0,927.50 782.0,922.98 783.0,918.30 784.0,913.47 785.0,908.50 786.0,903.38 787.0,898.12 788.0,892.74 789.0,887.23 790.0,881.61 791.0,875.87 792.0,870.02 793.0,864.08 794.0,858.04 795.0,851.91 796.0,845.70 797.0,839.42 798.0,833.06 799.0,826.64 800.0,820.15 801.0,813.62 802.0,807.04 803.0,800.41 804.0,793.76 805.0,787.07 806.0,780.36 807.0,773.63 808.0,766.89 809.0,760.14 810.0,753.39 811.0,746.65 812.0,739.92 813.0,733.21 814.0,726.52 815.0,719.86 816.0,713.24 817.0,706.66 818.0,700.13 819.0,693.64 820.0,687.22 821.0,680.86 822.0,674.58 823.0,668.37 824.0,662.24 825.0,656.20 826.0,650.24 827.0,644.37 828.0,638.58 829.0,632.87 830.0,627.24 831.0,621.69 832.0,616.21 833.0,610.81 834.0,605.48 835.0,600.22 836.0,595.03 837.0,589.92 838.0,584.86 839.0,579.88 840.0,574.96 841.0,570.10 842.0,565.30 843.0,560.57 844.0,555.89 845.0,551.27 846.0,546.70 847.0,542.19 848.0,537.73 849.0,533.32 850.0,528.96 851.0,524.65 852.0,520.39 853.0,516.17 854.0,511.99 855.0,507.86 856.0,503.76 857.0,499.71 858.0,495.70 859.0,491.72 860.0,487.77 861.0,483.86 862.0,479.98 863.0,476.13 864.0,472.31 865.0,468.52 866.0,464.75 867.0,461.01 868.0,457.30 869.0,453.62 870.0,449.98 871.0,446.37 872.0,442.80 873.0,439.28 874.0,435.79 875.0,432.35 876.0,428.96 877.0,425.62 878.0,422.33 879.0,419.10 880.0,415.92 881.0,412.80 882.0,409.75 883.0,406.75 884.0,403.83 885.0,400.97 886.0,398.18 887.0,395.47 888.0,392.83 889.0,390.27 890.0,387.78 891.0,385.38 892.0,383.07 893.0,380.84 894.0,378.70 895.0,376.65 896.0,374.70 897.0,372.84 898.0,371.07 899.0,369.41 900.0,367.85 901.0,366.40 902.0,365.06 903.0,363.82 904.0,362.69 905.0,361.68 906.0,360.79 907.0,360.01 908.0,359.36 909.0,358.82 910.0,358.42 911.0,358.13 912.0,357.97 913.0,357.94 914.0,358.04 915.0,358.27 916.0,358.64 917.0,359.14 918.0,359.77 919.0,360.54 920.0,361.44 921.0,362.49 922.0,363.68 923.0,365.01 924.0,366.49 925.0,368.11 926.0,369.87 927.0,371.79 928.0,373.86 929.0,376.07 930.0,378.44 931.0,380.97 932.0,383.65 933.0,386.48 934.0,389.48 935.0,392.63 936.0,395.95 937.0,399.43 938.0,403.08 939.0,406.89 940.0,410.86 941.0,415.01 942.0,419.33 943.0,423.82 944.0,428.48 945.0,433.31 946.0,438.33 947.0,443.52 948.0,448.89 949.0,454.43 950.0,460.16 951.0,466.06 952.0,472.12 953.0,478.33 954.0,484.70 955.0,491.21 956.0,497.87 957.0,504.65 958.0,511.56 959.0,518.58 960.0,525.72 961.0,532.97 962.0,540.32 963.0,547.76 964.0,555.28 965.0,562.89 966.0,570.57 967.0,578.32 968.0,586.13 969.0,594.00 970.0,601.91 971.0,609.87 972.0,617.86 973.0,625.88 974.0,633.93 975.0,641.99 976.0,650.06 977.0,658.14 978.0,666.21 979.0,674.27 980.0,682.32 981.0,690.35 982.0,698.35 983.0,706.31 984.0,714.23 985.0,722.11 986.0,729.93 987.0,737.69 988.0,745.38 989.0,753.00 990.0,760.54 991.0,768.00 992.0,775.37 993.0,782.65 994.0,789.84 995.0,796.95 996.0,803.96 997.0,810.88 998.0,817.70 999.0,824.43 1000.0,831.06 1001.0,837.59 1002.0,844.02 1003.0,850.36 1004.0,856.59 1005.0,862.72 1006.0,868.74 1007.0,874.66 1008.0,880.47 1009.0,886.17 1010.0,891.76 1011.0,897.25 1012.0,902.61 1013.0,907.87 1014.0,913.01 1015.0,918.04 1016.0,922.95 1017.0,927.74 1018.0,932.41 1019.0,936.95 1020.0,941.38 1021.0,945.68 1022.0,949.86 1023.0,953.91 1024.0,957.84 1025.0,961.63 1026.0,965.30 1027.0,968.83 1028.0,972.23 1029.0,975.50 1030.0,978.63 1031.0,981.62 1032.0,984.48 1033.0,987.20 1034.0,989.79 1035.0,992.25 1036.0,994.58 1037.0,996.79 1038.0,998.88 1039.0,1000.86 1040.0,1002.72 1041.0,1004.47 1042.0,1006.11 1043.0,1007.65 1044.0,1009.09 1045.0,1010.44 1046.0,1011.69 1047.0,1012.85 1048.0,1013.93 1049.0,1014.92 1050.0,1015.84 1051.0,1016.67 1052.0,1017.44 1053.0,1018.13 1054.0,1018.76 1055.0,1019.32 1056.0,1019.83 1057.0,1020.28 1058.0,1020.67 1059.0,1021.02 1060.0,1021.32 1061.0,1021.57 1062.0,1021.79 1063.0,1021.97 1064.0,1022.12 1065.0,1022.23 1066.0,1022.32 1067.0,1022.39 1068.0,1022.44 1069.0,1022.47 1070.0,1022.49 1071.0,1022.50 1072.0,1022.50 1073.0,1022.50 1530.0,1022.50" stroke="#FFFF00"/>
<path d="M212.0,1022.50 699.0,1022.50 700.0,1022.53 701.0,1022.55 702.0,1022.58 703.0,1022.61 704.0,1022.64 705.0,1022.67 706.0,1022.69 707.0,1022.71 708.0,1022.72 709.0,1022.73 710.0,1022.72 711.0,1022.71 712.0,1022.70 713.0,1022.67 714.0,1022.63 715.0,1022.58 716.0,1022.51 717.0,1022.43 718.0,1022.34 719.0,1022.23 720.0,1022.10 721.0,1021.96 722.0,1021.80 723.0,1021.62 724.0,1021.41 725.0,1021.19 726.0,1020.94 727.0,1020.67 728.0,1020.38 729.0,1020.05 730.0,1019.71 731.0,1019.33 732.0,1018.93 733.0,1018.50 734.0,1018.04 735.0,1017.54 736.0,1017.02 737.0,1016.46 738.0,1015.87 739.0,1015.24 740.0,1014.57 741.0,1013.87 742.0,1013.13 743.0,1012.35 744.0,1011.53 745.0,1010.65 746.0,1009.73 747.0,1008.75 748.0,1007.72 749.0,1006.62 750.0,1005.47 751.0,1004.25 752.0,1002.96 753.0,1001.59 754.0,1000.16 755.0,998.65 756.0,997.05 757.0,995.38 758.0,993.61 759.0,991.76 760.0,989.81 761.0,987.77 762.0,985.63 763.0,983.40 764.0,981.05 765.0,978.60 766.0,976.04 767.0,973.36 768.0,970.57 769.0,967.66 770.0,964.63 771.0,961.47 772.0,958.19 773.0,954.77 774.0,951.22 775.0,947.53 776.0,943.70 777.0,939.73 778.0,935.62 779.0,931.35 780.0,926.93 781.0,922.36 782.0,917.63 783.0,912.74 784.0,907.69 785.0,902.49 786.0,897.14 787.0,891.65 788.0,886.02 789.0,880.26 790.0,874.37 791.0,868.36 792.0,862.22 793.0,855.98 794.0,849.62 795.0,843.16 796.0,836.60 797.0,829.95 798.0,823.21 799.0,816.38 800.0,809.48 801.0,802.50 802.0,795.45 803.0,788.33 804.0,781.15 805.0,773.92 806.0,766.64 807.0,759.31 808.0,751.94 809.0,744.54 810.0,737.10 811.0,729.64 812.0,722.16 813.0,714.66 814.0,707.15 815.0,699.63 816.0,692.11 817.0,684.59 818.0,677.08 819.0,669.58 820.0,662.10 821.0,654.65 822.0,647.22 823.0,639.82 824.0,632.46 825.0,625.14 826.0,617.86 827.0,610.63 828.0,603.45 829.0,596.31 830.0,589.23 831.0,582.20 832.0,575.22 833.0,568.30 834.0,561.45 835.0,554.65 836.0,547.92 837.0,541.25 838.0,534.65 839.0,528.12 840.0,521.66 841.0,515.28 842.0,508.97 843.0,502.74 844.0,496.59 845.0,490.52 846.0,484.54 847.0,478.64 848.0,472.83 849.0,467.11 850.0,461.49 851.0,455.95 852.0,450.52 853.0,445.18 854.0,439.94 855.0,434.81 856.0,429.78 857.0,424.86 858.0,420.05 859.0,415.34 860.0,410.75 861.0,406.28 862.0,401.92 863.0,397.68 864.0,393.56 865.0,389.57 866.0,385.70 867.0,381.96 868.0,378.34 869.0,374.85 870.0,371.49 871.0,368.26 872.0,365.15 873.0,362.18 874.0,359.33 875.0,356.61 876.0,354.03 877.0,351.58 878.0,349.25 879.0,347.07 880.0,345.01 881.0,343.09 882.0,341.30 883.0,339.64 884.0,338.12 885.0,336.73 886.0,335.49 887.0,334.37 888.0,333.40 889.0,332.56 890.0,331.86 891.0,331.30 892.0,330.87 893.0,330.59 894.0,330.44 895.0,330.44 896.0,330.58 897.0,330.86 898.0,331.28 899.0,331.84 900.0,332.55 901.0,333.40 902.0,334.39 903.0,335.53 904.0,336.81 905.0,338.24 906.0,339.82 907.0,341.54 908.0,343.41 909.0,345.42 910.0,347.57 911.0,349.86 912.0,352.29 913.0,354.85 914.0,357.54 915.0,360.35 916.0,363.29 917.0,366.36 918.0,369.54 919.0,372.84 920.0,376.25 921.0,379.78 922.0,383.41 923.0,387.14 924.0,390.98 925.0,394.93 926.0,398.96 927.0,403.09 928.0,407.32 929.0,411.63 930.0,416.03 931.0,420.52 932.0,425.08 933.0,429.72 934.0,434.44 935.0,439.23 936.0,444.09 937.0,449.02 938.0,454.02 939.0,459.07 940.0,464.19 941.0,469.36 942.0,474.58 943.0,479.86 944.0,485.18 945.0,490.55 946.0,495.96 947.0,501.41 948.0,506.90 949.0,512.43 950.0,517.99 951.0,523.58 952.0,529.20 953.0,534.85 954.0,540.53 955.0,546.25 956.0,551.99 957.0,557.76 958.0,563.56 959.0,569.38 960.0,575.23 961.0,581.11 962.0,587.00 963.0,592.93 964.0,598.87 965.0,604.84 966.0,610.83 967.0,616.84 968.0,622.87 969.0,628.92 970.0,634.99 971.0,641.08 972.0,647.18 973.0,653.30 974.0,659.44 975.0,665.59 976.0,671.76 977.0,677.93 978.0,684.12 979.0,690.33 980.0,696.54 981.0,702.77 982.0,709.00 983.0,715.25 984.0,721.50 985.0,727.76 986.0,734.02 987.0,740.30 988.0,746.58 989.0,752.86 990.0,759.15 991.0,765.44 992.0,771.72 993.0,778.01 994.0,784.28 995.0,790.55 996.0,796.79 997.0,803.02 998.0,809.23 999.0,815.40 1000.0,821.55 1001.0,827.66 1002.0,833.74 1003.0,839.77 1004.0,845.75 1005.0,851.69 1006.0,857.57 1007.0,863.40 1008.0,869.16 1009.0,874.86 1010.0,880.50 1011.0,886.06 1012.0,891.54 1013.0,896.94 1014.0,902.27 1015.0,907.50 1016.0,912.64 1017.0,917.69 1018.0,922.64 1019.0,927.49 1020.0,932.23 1021.0,936.87 1022.0,941.39 1023.0,945.79 1024.0,950.07 1025.0,954.23 1026.0,958.26 1027.0,962.16 1028.0,965.92 1029.0,969.54 1030.0,973.02 1031.0,976.35 1032.0,979.53 1033.0,982.56 1034.0,985.45 1035.0,988.19 1036.0,990.79 1037.0,993.26 1038.0,995.60 1039.0,997.80 1040.0,999.89 1041.0,1001.85 1042.0,1003.69 1043.0,1005.42 1044.0,1007.04 1045.0,1008.55 1046.0,1009.96 1047.0,1011.27 1048.0,1012.49 1049.0,1013.61 1050.0,1014.65 1051.0,1015.60 1052.0,1016.47 1053.0,1017.26 1054.0,1017.98 1055.0,1018.63 1056.0,1019.22 1057.0,1019.74 1058.0,1020.20 1059.0,1020.60 1060.0,1020.96 1061.0,1021.26 1062.0,1021.52 1063.0,1021.74 1064.0,1021.93 1065.0,1022.08 1066.0,1022.20 1067.0,1022.29 1068.0,1022.36 1069.0,1022.41 1070.0,1022.45 1071.0,1022.47 1072.0,1022.49 1073.0,1022.50 1530.0,1022.50" stroke="#FF0000"/>
</g>
<g font-family="'Liberation Serif',serif" font-weight="bold" fill="#000" font-size="62.3" filter="url(#bin)">
<text transform="translate(191.2,1038.90) scale(0.9388,1)" text-anchor="end">0</text>
<text transform="translate(191.2,907.05) scale(0.9388,1)" text-anchor="end">5</text>
<text transform="translate(191.2,775.20) scale(0.9388,1)" text-anchor="end">10</text>
<text transform="translate(191.2,643.35) scale(0.9388,1)" text-anchor="end">15</text>
<text transform="translate(191.2,511.50) scale(0.9388,1)" text-anchor="end">20</text>
<text transform="translate(191.2,379.65) scale(0.9388,1)" text-anchor="end">25</text>
<text transform="translate(191.2,247.80) scale(0.9388,1)" text-anchor="end">30</text>
<text transform="translate(191.2,115.95) scale(0.9388,1)" text-anchor="end">35</text>
<text transform="translate(226.80,1129.6) scale(0.9388,1)" text-anchor="middle">100</text>
<text transform="translate(878.55,1129.6) scale(0.9388,1)" text-anchor="middle">1000</text>
<text transform="translate(1530.30,1129.6) scale(0.9388,1)" text-anchor="middle">10000</text>
</g>
<g font-family="'Liberation Serif',serif" font-weight="bold" fill="#000" font-size="55.5" filter="url(#bin)">
<rect x="278" y="115.95" width="119" height="9" fill="#000000"/>
<text transform="translate(409.3,139.9) scale(0.985,1)">CNF</text>
<rect x="278" y="200.85" width="119" height="9" fill="#FF0080"/>
<text transform="translate(409.3,224.9) scale(0.985,1)">CNF</text>
<rect x="278" y="270.35" width="119" height="9" fill="#00FF00"/>
<text transform="translate(410,294.1) scale(0.956,1)">CNF-NaCl</text>
<rect x="278" y="339.90" width="119" height="9" fill="#0000FF"/>
<text transform="translate(410,363.0) scale(0.956,1)">CNF-KCl</text>
<rect x="278" y="409.00" width="119" height="9" fill="#FFFF00"/>
<text transform="translate(410,432.0) scale(0.956,1)">CNF-NaCl-wash</text>
<rect x="278" y="478.45" width="119" height="9" fill="#FF0000"/>
<text transform="translate(410,501.9) scale(0.956,1)">CNF-KCl-wash</text>
<text font-size="33" transform="translate(520.5,158.6) scale(0.97,1)">0</text>
</g>
<g font-family="'Liberation Serif',serif" font-weight="bold" fill="#000" filter="url(#bin)">
<text font-size="55" text-anchor="middle" transform="translate(884.6,1227.9) scale(0.97,1)">Size(d.nm)</text>
<text font-size="54" text-anchor="middle" transform="translate(51.5,572.6) rotate(-90) scale(1.021,1)">Intensity(%)</text>
</g>
</svg>
</body></html>
